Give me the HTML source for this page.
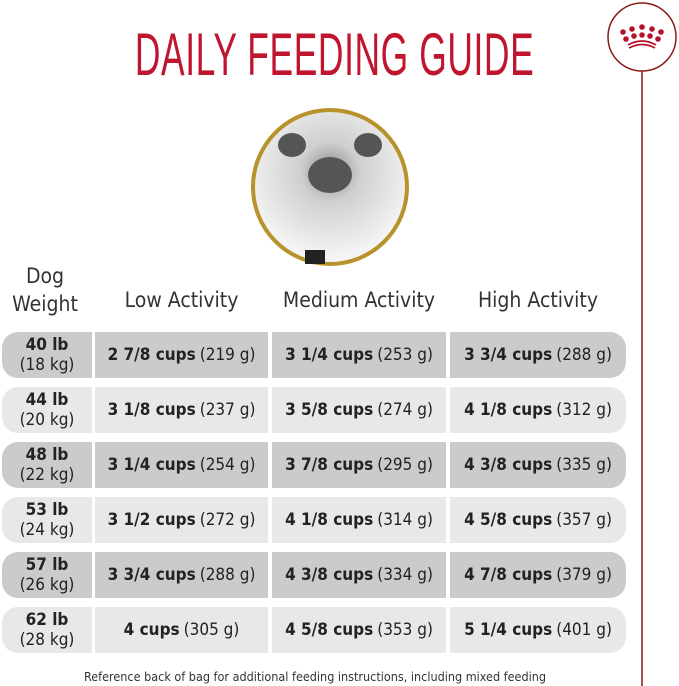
<!DOCTYPE html>
<html><head><meta charset="utf-8"><style>
*{margin:0;padding:0;box-sizing:border-box}
body{width:679px;height:686px;background:#fff;position:relative;overflow:hidden;font-family:"DejaVu Sans Condensed","Liberation Sans",sans-serif;color:#222}
.a{position:absolute}
.title{left:0;width:658px;top:24px;text-align:center;color:#c0152f;font-family:"Liberation Sans",sans-serif;font-size:60px;line-height:62px;transform:scaleX(0.59);transform-origin:329px 0;letter-spacing:1px;white-space:nowrap}
.cell{position:absolute;height:46px;display:flex;align-items:center;justify-content:center;font-size:17px;white-space:nowrap}
.cell b{font-weight:bold;margin-right:4px}
.w{flex-direction:column;line-height:20px;font-size:17px}
.w span:first-child{font-weight:bold}
.hd{font-size:21px;color:#333;text-align:center;position:absolute}
</style></head><body>
<div class="a title">DAILY FEEDING GUIDE</div>
<svg class="a" style="left:0;top:0" width="679" height="686">
<circle cx="642" cy="37" r="34" fill="#fff" stroke="#8b1a1a" stroke-width="1.5"/>
<line x1="642" y1="71" x2="642" y2="686" stroke="#8b1a1a" stroke-width="1.5"/>
<g fill="#b5122a">
<circle cx="623" cy="32" r="2.8"/><circle cx="632" cy="29" r="2.8"/><circle cx="642" cy="27" r="2.8"/><circle cx="652" cy="29" r="2.8"/><circle cx="661" cy="32" r="2.8"/>
<circle cx="626" cy="39" r="2.8"/><circle cx="634" cy="36" r="2.8"/><circle cx="642" cy="35" r="2.8"/><circle cx="650" cy="36" r="2.8"/><circle cx="658" cy="39" r="2.8"/>
</g>
<path d="M628 45 Q642 37 656 45 M629 48 Q642 41 655 48" stroke="#b5122a" stroke-width="1.8" fill="none"/>
<defs><radialGradient id="g" cx="50%" cy="40%" r="55%"><stop offset="0" stop-color="#8a8a8a"/><stop offset="0.35" stop-color="#cfcfcf"/><stop offset="1" stop-color="#f4f4f4"/></radialGradient></defs>
<circle cx="330" cy="187" r="77" fill="url(#g)" stroke="#b8922a" stroke-width="4"/>
<ellipse cx="292" cy="145" rx="14" ry="12" fill="#555"/>
<ellipse cx="368" cy="145" rx="14" ry="12" fill="#555"/>
<ellipse cx="330" cy="175" rx="22" ry="18" fill="#555"/>
<rect x="305" y="250" width="20" height="14" fill="#222"/>
</svg>
<div class="hd" style="left:0;width:90px;top:262px;line-height:28px">Dog<br>Weight</div>
<div class="hd" style="left:95px;width:173px;top:288px">Low Activity</div>
<div class="hd" style="left:272px;width:174px;top:288px">Medium Activity</div>
<div class="hd" style="left:450px;width:176px;top:288px">High Activity</div>
<div id="t"></div>
<div class="a" style="left:0;width:630px;top:669px;text-align:center;font-size:12.5px;color:#333">Reference back of bag for additional feeding instructions, including mixed feeding</div>
<script>
var d=[["40 lb","(18 kg)","2 7/8 cups","(219 g)","3 1/4 cups","(253 g)","3 3/4 cups","(288 g)"],
["44 lb","(20 kg)","3 1/8 cups","(237 g)","3 5/8 cups","(274 g)","4 1/8 cups","(312 g)"],
["48 lb","(22 kg)","3 1/4 cups","(254 g)","3 7/8 cups","(295 g)","4 3/8 cups","(335 g)"],
["53 lb","(24 kg)","3 1/2 cups","(272 g)","4 1/8 cups","(314 g)","4 5/8 cups","(357 g)"],
["57 lb","(26 kg)","3 3/4 cups","(288 g)","4 3/8 cups","(334 g)","4 7/8 cups","(379 g)"],
["62 lb","(28 kg)","4 cups","(305 g)","4 5/8 cups","(353 g)","5 1/4 cups","(401 g)"]];
var h="";
d.forEach(function(r,i){var y=332+i*55,c=i%2?"#e8e8e8":"#cbcbcb";
h+='<div class="cell w" style="left:2px;width:90px;top:'+y+'px;background:'+c+';border-radius:16px 0 0 16px"><span>'+r[0]+'</span><span>'+r[1]+'</span></div>';
h+='<div class="cell" style="left:95px;width:173px;top:'+y+'px;background:'+c+'"><b>'+r[2]+'</b>'+r[3]+'</div>';
h+='<div class="cell" style="left:272px;width:174px;top:'+y+'px;background:'+c+'"><b>'+r[4]+'</b>'+r[5]+'</div>';
h+='<div class="cell" style="left:450px;width:176px;top:'+y+'px;background:'+c+';border-radius:0 16px 16px 0"><b>'+r[6]+'</b>'+r[7]+'</div>';});
document.getElementById("t").innerHTML=h;
</script>
</body></html>
